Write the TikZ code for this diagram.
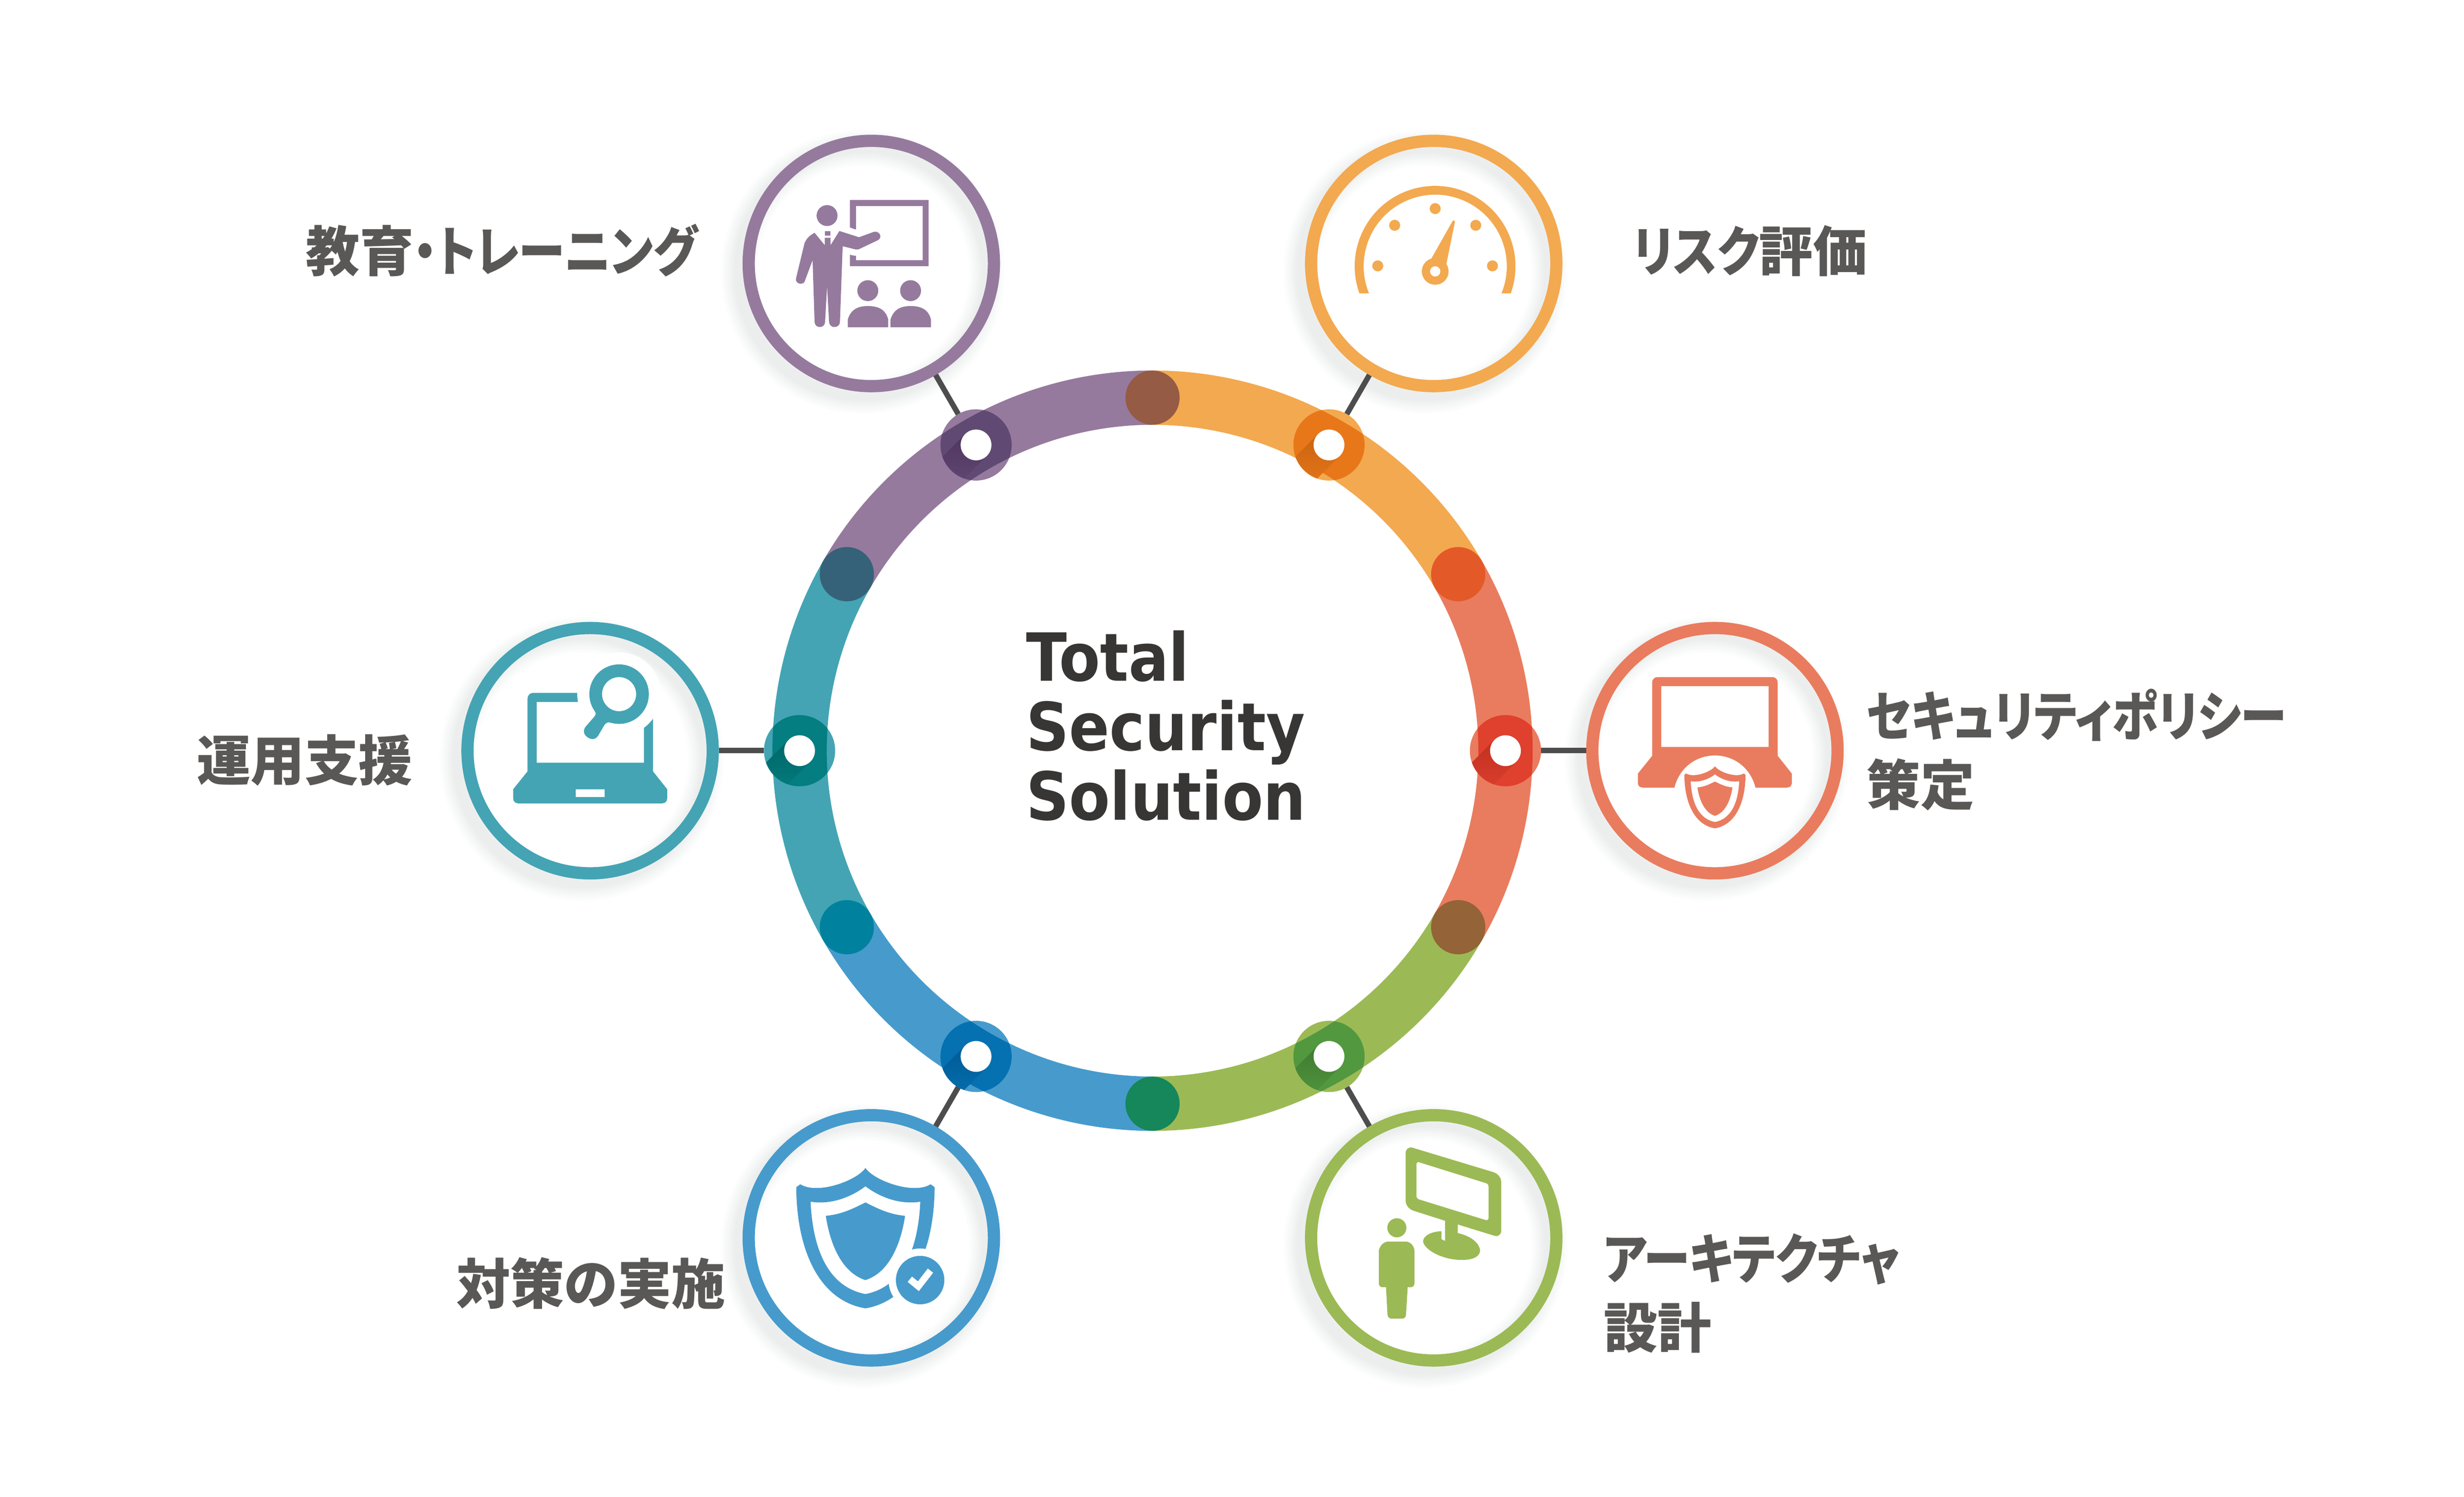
\documentclass[tikz,border=0pt]{standalone}
\usepackage{fontspec}
\newfontfamily\jpfont[RawFeature=+palt]{Noto Sans CJK JP}
\newfontfamily\kanafont[RawFeature=+palt,FakeStretch=0.865]{Noto Sans CJK JP}
\newfontfamily\enfont[FakeStretch=0.9]{DejaVu Sans}
\definecolor{purpleband}{HTML}{957A9E}
\definecolor{orangeband}{HTML}{F3A94F}
\definecolor{coralband}{HTML}{E97C5E}
\definecolor{greenband}{HTML}{9BBA55}
\definecolor{blueband}{HTML}{469BCC}
\definecolor{tealband}{HTML}{44A4B3}
\definecolor{purpledark}{HTML}{604A74}
\definecolor{orangedark}{HTML}{E8771A}
\definecolor{coraldark}{HTML}{E0402E}
\definecolor{greendark}{HTML}{52983F}
\definecolor{bluedark}{HTML}{0571B1}
\definecolor{tealdark}{HTML}{047E80}
\definecolor{purpleshade}{HTML}{513560}
\definecolor{orangeshade}{HTML}{C96410}
\definecolor{coralshade}{HTML}{BF3022}
\definecolor{greenshade}{HTML}{3F7A30}
\definecolor{blueshade}{HTML}{005A95}
\definecolor{tealshade}{HTML}{006668}
\definecolor{brownjoint}{HTML}{955B44}
\definecolor{redjoint}{HTML}{E35A28}
\definecolor{umberjoint}{HTML}{946337}
\definecolor{greenjoint}{HTML}{15875A}
\definecolor{bluejoint}{HTML}{00829F}
\definecolor{slatejoint}{HTML}{356278}
\definecolor{softgray}{HTML}{ECEEEE}
\definecolor{linkgray}{HTML}{4D4D4D}
\definecolor{labelgray}{HTML}{595856}
\definecolor{titlegray}{HTML}{373634}
\tikzset{
    band/.style={line width=1.51cm},
    hub/.style={circle,inner sep=0,outer sep=0,minimum size=1.98cm},
    iconring/.style={circle,draw,inner sep=0,minimum size=6.82cm,line width=0.34cm},
    link/.style={linkgray,line width=0.15cm},
    icongrid/.style={x=0.1452pt,y=-0.1452pt},
    label/.style={inner sep=0,labelgray,align=left,font=\jpfont\bfseries\fontsize{42.7}{54.6}\selectfont},
    shieldicon/.pic={
        \fill[even odd rule,shift={(-700,-367)}]
            (700,367) .. controls (745,435) and (960,515) .. (1055,456) -- (1077,472)
            .. controls (1075,820) and (950,1090) .. (700,1132)
            .. controls (450,1090) and (325,820) .. (323,472) -- (345,456)
            .. controls (440,515) and (655,435) .. (700,367) -- cycle
            (700,467) .. controls (770,520) and (880,570) .. (999,551)
            .. controls (985,850) and (880,1020) .. (700,1054)
            .. controls (520,1020) and (415,850) .. (401,551)
            .. controls (520,570) and (630,520) .. (700,467) -- cycle
            (700,555) .. controls (770,590) and (830,620) .. (916,628)
            .. controls (890,800) and (820,940) .. (700,978)
            .. controls (580,940) and (510,800) .. (484,628)
            .. controls (570,620) and (630,590) .. (700,555) -- cycle;
    }
}
\begin{document}
\begin{tikzpicture}
    \useasboundingbox (-32.05,-20.74) rectangle (36.47,20.87);
    \foreach \p/\ang/\col in {P/120/purpleband,O/60/orangeband,C/0/coralband,G/-60/greenband,B/-120/blueband,T/180/tealband} {
        \foreach \i in {1,...,10} {
            \pgfmathsetmacro\wd{1.0-(\i-1)*0.08}
            \pgfmathsetmacro\tint{\i*10}
            \draw[softgray!\tint!white,line width=\wd cm] (\ang:15.64) ++(-0.23,-0.23) circle (3.45);
        }
        \node[iconring,color=\col] (\p) at (\ang:15.64) {};
        \draw[band,\col] (\ang-30:9.815) arc (\ang-30:\ang+30:9.815);
    }
    \foreach \ang/\col in {90/brownjoint,30/redjoint,-30/umberjoint,-90/greenjoint,-150/bluejoint,150/slatejoint} {
        \fill[\col] (\ang:9.815) circle (0.754);
    }
    \foreach \p/\ang/\col/\dk/\sh in {P/120/purpleband/purpledark/purpleshade,O/60/orangeband/orangedark/orangeshade,C/0/coralband/coraldark/coralshade,G/-60/greenband/greendark/greenshade,B/-120/blueband/bluedark/blueshade,T/180/tealband/tealdark/tealshade} {
        \node[hub,fill=\col] (h\p) at (\ang:9.815) {};
        \begin{scope}
            \clip (h\p) circle (0.99);
            \draw[band,\dk] (\ang-8:9.815) arc (\ang-8:\ang+8:9.815);
            \shade[shading angle=-45,top color=\sh,bottom color=\dk] (h\p) ++(135:0.428) -- ++(225:1.4) -- ++(-45:0.856) -- ++(45:1.4) -- cycle;
        \end{scope}
        \fill[white] (h\p) circle (0.428);
        \draw[link] (h\p) -- (\p);
    }
    \begin{scope}[shift={(P)},icongrid,shift={(-732,-750)},color=purpleband]
        \fill (491,489) circle (57);
        \fill (423,583) -- (478,650) -- (478,610) -- (510,610) -- (510,650) -- (558,573) -- (665,607) -- (745,578)
            .. controls (775,570) and (795,605) .. (770,622) -- (665,672) .. controls (650,676) and (640,672) .. (625,668)
            -- (576,656) -- (561,1070) .. controls (558,1105) and (505,1105) .. (502,1070) -- (491,875) -- (480,1070)
            .. controls (477,1105) and (426,1105) .. (423,1070) -- (412,732) -- (368,850)
            .. controls (355,870) and (315,860) .. (322,830) -- (368,640) .. controls (380,610) and (400,595) .. (423,583) -- cycle;
        \fill (478,574) rectangle (510,598);
        \fill (615,553) .. controls (625,558) and (637,562) .. (649,565) -- (649,437) -- (1012,437) -- (1012,732) -- (649,732) -- (649,708)
            .. controls (637,708) and (625,705) .. (615,702) -- (615,764) -- (1044,764) -- (1044,404) -- (615,404) -- cycle;
        \fill (713,898) circle (57);
        \fill (946,898) circle (57);
        \foreach \dx in {0,233} {
            \fill[shift={(\dx,0)}] (604,1097) -- (604,1055) .. controls (620,1000) and (660,982) .. (713,982)
                .. controls (770,982) and (810,1000) .. (824,1055) -- (824,1097) -- cycle;
        }
    \end{scope}
    \begin{scope}[shift={(O)},icongrid,shift={(-720,-750)},color=orangeband]
        \fill (315,913) arc (160.3:379.7:438) -- (1089,913) arc (382.3:157.7:390) -- cycle;
        \foreach \q in {(415,763),(507,542),(728,451),(949,542),(1040,763)} {
            \fill \q circle (30);
        }
        \fill (728,793) circle (73);
        \fill (708,722) -- (822,520) .. controls (827,512) and (837,516) .. (835,526) -- (789,752) -- cycle;
        \fill[white] (728,793) circle (28);
    \end{scope}
    \begin{scope}[shift={(C)},icongrid,shift={(-724,-760)},color=coralband]
        \fill[even odd rule] (382,788) -- (382,390) .. controls (382,370) and (395,359) .. (412,359) -- (1036,359)
            .. controls (1055,359) and (1066,372) .. (1066,390) -- (1066,788) -- (1143,885) -- (1143,935)
            .. controls (1143,952) and (1132,961) .. (1115,961) -- (945,961) .. controls (915,845) and (820,786) .. (724,786)
            .. controls (628,786) and (533,845) .. (503,961) -- (332,961) .. controls (315,961) and (304,952) .. (304,935)
            -- (304,885) -- cycle (431,408) rectangle (1016,740);
        \pic[scale=0.442] at (724,845) {shieldicon};
    \end{scope}
    \begin{scope}[shift={(G)},icongrid,shift={(-720,-748)},color=greenband]
        \fill[even odd rule] (567,285) .. controls (567,265) and (585,250) .. (605,257) -- (1045,390)
            .. controls (1070,398) and (1088,420) .. (1088,445) -- (1088,708) .. controls (1088,728) and (1072,743) .. (1052,737)
            -- (851,675) -- (851,722) .. controls (910,735) and (960,765) .. (972,810) .. controls (978,850) and (930,870) .. (870,868)
            .. controls (770,868) and (670,815) .. (662,768) .. controls (662,735) and (710,713) .. (762,712)
            -- (762,755) -- (782,765) -- (782,655) -- (610,600) .. controls (585,592) and (567,570) .. (567,545) -- cycle
            (626,345) .. controls (626,338) and (632,333) .. (640,336) -- (1005,450) .. controls (1014,453) and (1019,460) .. (1019,468)
            -- (1019,638) .. controls (1019,648) and (1012,654) .. (1003,651) -- (638,538) .. controls (631,535) and (626,530) .. (626,522) -- cycle;
        \fill (519,693) circle (52);
        \fill (421,815) .. controls (430,785) and (450,768) .. (475,768) -- (565,768) .. controls (595,768) and (615,795) .. (615,820)
            -- (615,995) .. controls (615,1008) and (606,1017) .. (595,1017) -- (578,1017) -- (569,1165) .. controls (568,1180) and (560,1188) .. (548,1188)
            -- (490,1188) .. controls (478,1188) and (469,1180) .. (468,1165) -- (460,1017) -- (440,1017) .. controls (430,1017) and (421,1008) .. (421,998) -- cycle;
    \end{scope}
    \begin{scope}[shift={(B)},icongrid,shift={(-732,-748)},color=blueband]
        \pic at (700,367) {shieldicon};
        \fill[white] (998,978) circle (172);
        \fill (998,978) circle (132);
        \fill[white] (930,988) -- (954,959) -- (986,985) -- (1040,915) -- (1069,938) -- (991,1038) -- cycle;
    \end{scope}
    \begin{scope}[shift={(T)},icongrid,shift={(-747,-760)},color=tealband]
        \fill[even odd rule] (406,873) -- (406,477) .. controls (406,458) and (420,445) .. (438,445) -- (1058,445)
            .. controls (1078,445) and (1090,458) .. (1090,477) -- (1090,873) -- (1167,970) -- (1167,1020)
            .. controls (1167,1036) and (1155,1047) .. (1140,1047) -- (355,1047) .. controls (340,1047) and (328,1036) .. (328,1020)
            -- (328,970) -- cycle (456,495) rectangle (1040,826) (669,971) rectangle (826,1013);
        \fill[white] (905,452) circle (228);
        \fill[even odd rule] (905,452) circle (162) (905,452) circle (93);
        \fill (770,540) .. controls (782,558) and (778,562) .. (770,575) -- (722,630) .. controls (705,655) and (715,675) .. (735,688)
            .. controls (760,705) and (780,695) .. (790,680) -- (825,620) .. controls (835,605) and (850,603) .. (860,608) -- cycle;
    \end{scope}
    \node[inner sep=0,anchor=west,align=left,titlegray,font=\enfont\bfseries\fontsize{52.5}{54.9}\selectfont] (title) at (-3.52,0.69) {Total\\Security\\Solution};
    \node[label,anchor=east] (lP) at (-12.65,13.91) {教育{\kanafont ・トレーニング}};
    \node[label,anchor=west] (lO) at (13.36,13.89) {{\kanafont リスク}評価};
    \node[label,anchor=west] (lC) at (19.85,0.02) {{\kanafont セキュリティポリシー}\\策定};
    \node[label,anchor=west] (lG) at (12.54,-15.09) {{\kanafont アーキテクチャ}\\設計};
    \node[label,anchor=east] (lB) at (-11.87,-14.81) {対策の実施};
    \node[label,anchor=east] (lT) at (-20.57,-0.27) {運用支援};
\end{tikzpicture}
\end{document}
